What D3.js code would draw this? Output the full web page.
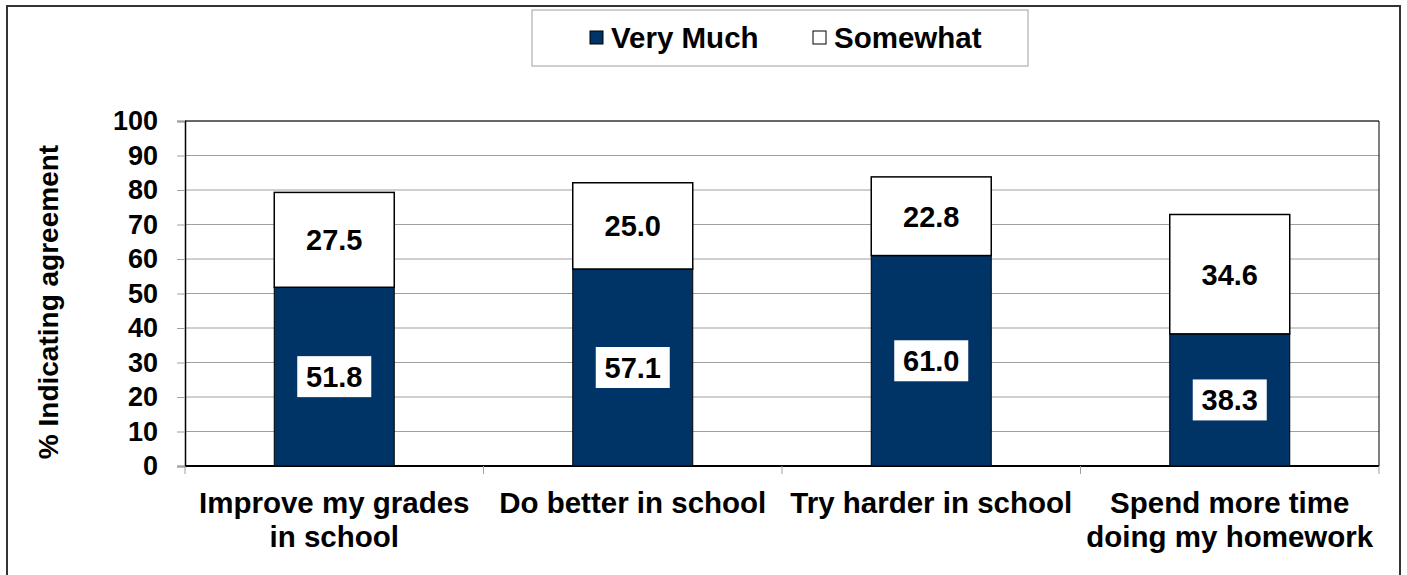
<!DOCTYPE html>
<html>
<head>
<meta charset="utf-8">
<script src="https://cdn.jsdelivr.net/npm/d3@7"></script>
<style>
  body { margin: 0; background: #fff; }
  text { font-family: "Liberation Sans", Arial, sans-serif; font-weight: bold; fill: #000; }
</style>
</head>
<body>
<div id="chart"></div>
<script>
// Data
const categories = [["Improve my grades", "in school"], ["Do better in school"], ["Try harder in school"], ["Spend more time", "doing my homework"]];
const veryMuch = [51.8, 57.1, 61.0, 38.3];
const somewhat = [27.5, 25.0, 22.8, 34.6];
const seriesNames = ["Very Much", "Somewhat"];
const yTicks = [0, 10, 20, 30, 40, 50, 60, 70, 80, 90, 100];

const width = 1407, height = 575;
const margin = { top: 121, right: 28, bottom: 109, left: 185 };
const w = width - margin.left - margin.right;
const h = height - margin.top - margin.bottom;
const navy = "#003366";

let svg = d3.select("#chart").append("svg")
  .attr("width", width)
  .attr("height", height);

// Outer frame
svg.append("rect")
  .attr("x", 7).attr("y", 6)
  .attr("width", 1393).attr("height", 580)
  .attr("fill", "none")
  .attr("stroke", "#333")
  .attr("stroke-width", 2);

let g = svg.append("g").attr("transform", `translate(${margin.left},${margin.top})`);

// Scales
let xScale = d3.scaleBand()
  .domain(d3.range(categories.length))
  .range([0, w])
  .padding(0);
let yScale = d3.scaleLinear()
  .domain([0, 100])
  .range([h, 0]);
const barW = xScale.bandwidth() * 0.402;

// Grid lines
g.selectAll("line.grid")
  .data(yTicks.slice(1))
  .enter()
  .append("line")
  .attr("class", "grid")
  .attr("x1", 0).attr("x2", w)
  .attr("y1", d => yScale(d)).attr("y2", d => yScale(d))
  .attr("stroke", "#a0a0a0")
  .attr("stroke-width", 1);

// Y axis
let yAxis = g.append("g")
  .call(d3.axisLeft(yScale).tickValues(yTicks).tickSize(8).tickPadding(19));
yAxis.select(".domain").attr("stroke", "#000").attr("stroke-width", 1.5);
yAxis.selectAll(".tick line").attr("stroke", "#a0a0a0");
yAxis.selectAll(".tick text")
  .style("font-size", "27px")
  .style("font-family", "Liberation Sans, Arial, sans-serif")
  .style("font-weight", "bold")
  .attr("fill", "#000");

// X axis line and category ticks
g.append("line")
  .attr("x1", 0).attr("x2", w)
  .attr("y1", h).attr("y2", h)
  .attr("stroke", "#000").attr("stroke-width", 2);
g.selectAll("line.xtick")
  .data(d3.range(categories.length + 1))
  .enter()
  .append("line")
  .attr("class", "xtick")
  .attr("x1", d => d * xScale.step()).attr("x2", d => d * xScale.step())
  .attr("y1", h).attr("y2", h + 8)
  .attr("stroke", "#a0a0a0");

// Plot area border (top, right)
g.append("line")
  .attr("x1", w).attr("x2", w)
  .attr("y1", 0).attr("y2", h)
  .attr("stroke", "#000").attr("stroke-width", 1);
g.append("line")
  .attr("x1", 0).attr("x2", w)
  .attr("y1", 0).attr("y2", 0)
  .attr("stroke", "#000").attr("stroke-width", 1);

// Bars
const bx = i => xScale(i) + (xScale.bandwidth() - barW) / 2;
g.selectAll("rect.vm")
  .data(veryMuch)
  .enter()
  .append("rect")
  .attr("class", "vm")
  .attr("x", (d, i) => bx(i))
  .attr("y", d => yScale(d))
  .attr("width", barW)
  .attr("height", d => h - yScale(d))
  .attr("fill", navy)
  .attr("stroke", "#000")
  .attr("stroke-width", 1);
g.selectAll("rect.sw")
  .data(somewhat)
  .enter()
  .append("rect")
  .attr("class", "sw")
  .attr("x", (d, i) => bx(i))
  .attr("y", (d, i) => yScale(veryMuch[i] + d))
  .attr("width", barW)
  .attr("height", (d, i) => yScale(veryMuch[i]) - yScale(veryMuch[i] + d))
  .attr("fill", "#fff")
  .attr("stroke", "#000")
  .attr("stroke-width", 1.5);

// Value labels
g.selectAll("rect.lblbox")
  .data(veryMuch)
  .enter()
  .append("rect")
  .attr("class", "lblbox")
  .attr("x", (d, i) => xScale(i) + xScale.bandwidth() / 2 - 37)
  .attr("y", d => yScale(d / 2) - 20.5)
  .attr("width", 74)
  .attr("height", 41)
  .attr("fill", "#fff");
g.selectAll("text.vmlbl")
  .data(veryMuch)
  .enter()
  .append("text")
  .attr("class", "vmlbl")
  .attr("x", (d, i) => xScale(i) + xScale.bandwidth() / 2)
  .attr("y", d => yScale(d / 2))
  .attr("dy", "0.36em")
  .attr("text-anchor", "middle")
  .style("font-size", "29px")
  .text(d => d.toFixed(1));
g.selectAll("text.swlbl")
  .data(somewhat)
  .enter()
  .append("text")
  .attr("class", "swlbl")
  .attr("x", (d, i) => xScale(i) + xScale.bandwidth() / 2)
  .attr("y", (d, i) => yScale(veryMuch[i] + d / 2))
  .attr("dy", "0.36em")
  .attr("text-anchor", "middle")
  .style("font-size", "29px")
  .text(d => d.toFixed(1));

// Category labels
categories.forEach((lines, i) => {
  let t = g.append("text")
    .attr("x", xScale(i) + xScale.bandwidth() / 2)
    .attr("y", h + 47)
    .attr("text-anchor", "middle")
    .style("font-size", "29.5px");
  lines.forEach((line, j) => {
    t.append("tspan")
      .attr("x", xScale(i) + xScale.bandwidth() / 2)
      .attr("dy", j === 0 ? 0 : 34)
      .text(line);
  });
});

// Y axis title
svg.append("text")
  .attr("transform", `translate(58,302) rotate(-90)`)
  .attr("text-anchor", "middle")
  .style("font-size", "28px")
  .text("% Indicating agreement");

// Legend
let legend = svg.append("g");
legend.append("rect")
  .attr("x", 532).attr("y", 10)
  .attr("width", 496).attr("height", 56)
  .attr("fill", "#fff")
  .attr("stroke", "#a0a0a0");
const legendX = [590, 813];
const legendFill = [navy, "#fff"];
seriesNames.forEach((name, i) => {
  legend.append("rect")
    .attr("x", legendX[i]).attr("y", 31)
    .attr("width", 13).attr("height", 13)
    .attr("fill", legendFill[i])
    .attr("stroke", "#000");
  legend.append("text")
    .attr("x", legendX[i] + 21).attr("y", 48)
    .style("font-size", "29.5px")
    .text(name);
});
</script>
</body>
</html>
